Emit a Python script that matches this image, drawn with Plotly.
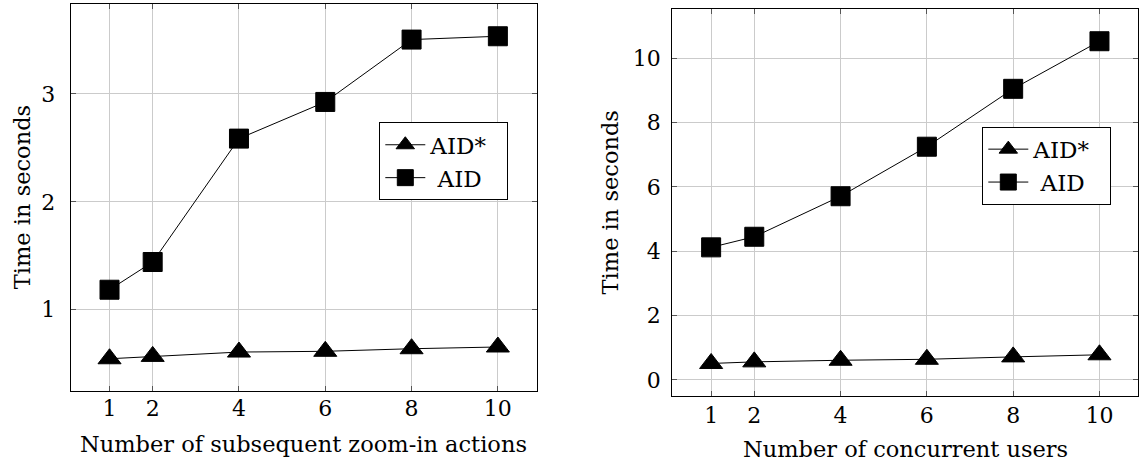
import plotly.graph_objects as go

# Benchmark timings (seconds)
zoom_actions = [1, 2, 4, 6, 8, 10]
zoom_aid_star = [0.545, 0.567, 0.607, 0.614, 0.638, 0.654]
zoom_aid = [1.185, 1.442, 2.586, 2.926, 3.504, 3.535]

users = [1, 2, 4, 6, 8, 10]
users_aid_star = [0.51, 0.56, 0.61, 0.64, 0.715, 0.78]
users_aid = [4.12, 4.45, 5.71, 7.25, 9.05, 10.53]

left_yticks = [1, 2, 3]
right_yticks = [0, 2, 4, 6, 8, 10]

W, H = 1139, 466
SERIF = "DejaVu Serif"
NBSP = "\u00a0"


def enlarged(values, frac=0.1):
    lo, hi = min(values), max(values)
    pad = (hi - lo) * frac
    return [lo - pad, hi + pad]


def px_x(p):
    return p / W


def px_y(p):
    return 1 - p / H


fig = go.Figure()

series = [
    ("x", "y", "legend", zoom_actions, zoom_aid_star, zoom_aid),
    ("x2", "y2", "legend2", users, users_aid_star, users_aid),
]
for xa, ya, lg, xs, star, aid in series:
    fig.add_trace(go.Scatter(
        x=xs, y=star, name="AID*" + NBSP * 2, mode="lines+markers",
        xaxis=xa, yaxis=ya, legend=lg,
        line=dict(color="black", width=1),
        marker=dict(symbol="triangle-up", size=20, color="black",
                    line=dict(color="black", width=1)),
    ))
    fig.add_trace(go.Scatter(
        x=xs, y=aid, name=NBSP + "AID", mode="lines+markers",
        xaxis=xa, yaxis=ya, legend=lg,
        line=dict(color="black", width=1),
        marker=dict(symbol="square", size=19, color="black",
                    line=dict(color="black", width=1)),
    ))

axis_common = dict(
    showline=True, linecolor="black", linewidth=1.3, mirror="ticks",
    showgrid=True, gridcolor="#cbcbcb", gridwidth=1,
    ticks="inside", ticklen=5, tickwidth=1, tickcolor="#555555",
    tickfont=dict(family=SERIF, size=22, color="black"),
    zeroline=False, fixedrange=True,
)

legend_common = dict(
    xanchor="left", yanchor="top",
    bgcolor="white", bordercolor="black", borderwidth=1,
    font=dict(family=SERIF, size=23, color="black"),
    itemwidth=40, tracegroupgap=0,
)

fig.update_layout(
    width=W, height=H,
    margin=dict(l=0, r=0, t=0, b=0),
    paper_bgcolor="white", plot_bgcolor="white",
    font=dict(family=SERIF, color="black"),
    xaxis=dict(axis_common, domain=[px_x(70.7), px_x(536.7)],
               range=enlarged(zoom_actions), tickvals=zoom_actions,
               ticklabelstandoff=-3, anchor="y"),
    yaxis=dict(axis_common, domain=[px_y(391), px_y(4)],
               range=enlarged(zoom_aid_star + zoom_aid), tickvals=left_yticks,
               ticklabelstandoff=10, anchor="x"),
    xaxis2=dict(axis_common, domain=[px_x(672.3), px_x(1138.3)],
                range=enlarged(users), tickvals=users,
                ticklabelstandoff=0, anchor="y2"),
    yaxis2=dict(axis_common, domain=[px_y(395.7), px_y(9)],
                range=enlarged(users_aid_star + users_aid), tickvals=right_yticks,
                ticklabelstandoff=6, anchor="x2"),
    legend=dict(legend_common, x=px_x(379.3), y=px_y(122.3)),
    legend2=dict(legend_common, x=px_x(982.3), y=px_y(126.7)),
    showlegend=True,
)

title_font = dict(family=SERIF, size=22.5, color="black")
titles = [
    ("Number of subsequent zoom-in actions", px_x(303.7), px_y(444), 0),
    ("Time in seconds", px_x(21.7), px_y(197.5), -90),
    ("Number of concurrent users", px_x(905.3), px_y(449), 0),
    ("Time in seconds", px_x(610), px_y(202.4), -90),
]
for text, x, y, ang in titles:
    fig.add_annotation(text=text, x=x, y=y, xref="paper", yref="paper",
                       xanchor="center", yanchor="middle", showarrow=False,
                       textangle=ang, font=title_font)

fig.write_html("out.html")
